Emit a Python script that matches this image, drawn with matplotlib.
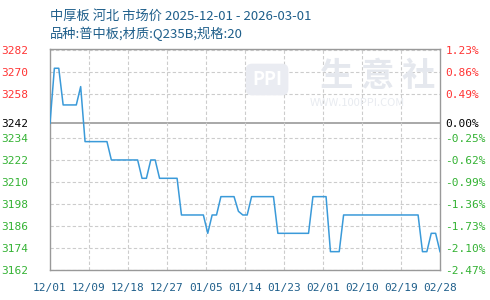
import matplotlib
matplotlib.use("Agg")
import matplotlib.pyplot as plt
import numpy as np

plt.rcParams['font.family'] = ['Noto Sans CJK SC', 'DejaVu Sans']

# 价格数据 (2025-12-01 起每日)
prices = [3242, 3272, 3272, 3252, 3252, 3252, 3252, 3262, 3232, 3232,
          3232, 3232, 3232, 3232, 3222, 3222, 3222, 3222, 3222, 3222,
          3222, 3212, 3212, 3222, 3222, 3212, 3212, 3212, 3212, 3212,
          3192, 3192, 3192, 3192, 3192, 3192, 3182, 3192, 3192, 3202,
          3202, 3202, 3202, 3194, 3192, 3192, 3202, 3202, 3202, 3202,
          3202, 3202, 3182, 3182, 3182, 3182, 3182, 3182, 3182, 3182,
          3202, 3202, 3202, 3202, 3172, 3172, 3172, 3192, 3192, 3192,
          3192, 3192, 3192, 3192, 3192, 3192, 3192, 3192, 3192, 3192,
          3192, 3192, 3192, 3192, 3192, 3172, 3172, 3182, 3182, 3172]
base = 3242
yticks = [3162, 3174, 3186, 3198, 3210, 3222, 3234, 3242, 3258, 3270, 3282]
xlabels = ['12/01', '12/09', '12/18', '12/27', '01/05', '01/14',
           '01/23', '02/01', '02/10', '02/19', '02/28']

title1 = '中厚板 河北 市场价 2025-12-01 - 2026-03-01'
title2 = '品种:普中板;材质:Q235B;规格:20'

red = '#ff3333'
green = '#33b233'
blue_txt = '#1f5f8b'

x = np.arange(len(prices))
xticks = np.linspace(0, len(prices) - 1, len(xlabels))

fig = plt.figure(figsize=(4.9, 3.0), dpi=100)
ax = fig.add_axes([50/490, 30/300, 390/490, 221/300])

# 水印
fig.text(0.77, 0.745, '生 意 社', fontsize=24, color='#e5e8ee',
         ha='center', va='center', fontweight='bold', zorder=0)
fig.text(0.73, 0.655, 'WWW.100PPI.COM', fontsize=8, color='#e8ebf0',
         ha='center', va='center', zorder=0)
fig.text(0.545, 0.735, 'PPI', fontsize=13, color='#ffffff', ha='center',
         va='center', fontweight='bold', zorder=1,
         bbox=dict(boxstyle='round,pad=0.35', fc='#eaecf2', ec='none'))

for t in yticks:
    if t == base:
        ax.axhline(t, color='#999999', lw=1.2, zorder=1)
    else:
        ax.axhline(t, color='#cccccc', lw=0.8, ls=(0, (3, 2)), zorder=1)
for t in xticks[1:-1]:
    ax.axvline(t, color='#cccccc', lw=0.8, ls=(0, (3, 2)), zorder=1)

ax.plot(x, prices, color='#3a9ad9', lw=1.1, zorder=3)

ax.set_xlim(0, len(prices) - 1)
ax.set_ylim(3162, 3282.5)
ax.set_facecolor('none')
for s in ax.spines.values():
    s.set_color('#999999')
    s.set_linewidth(1.0)

def col(v):
    if v > base:
        return red
    if v < base:
        return green
    return 'black'

ax.set_yticks(yticks)
ax.set_yticklabels([str(t) for t in yticks], family='DejaVu Sans Mono', fontsize=8)
for lab, t in zip(ax.get_yticklabels(), yticks):
    lab.set_color(col(t))
ax.tick_params(axis='y', length=0, pad=16)

ax.set_xticks(xticks)
ax.set_xticklabels(xlabels, family='DejaVu Sans Mono', fontsize=8, color=blue_txt)
ax.tick_params(axis='x', length=0, pad=9)

ax2 = ax.twinx()
ax2.set_ylim(ax.get_ylim())
ax2.set_yticks(yticks)
ax2.set_yticklabels(['%.2f%%' % ((t - base) / base * 100) for t in yticks],
                    family='DejaVu Sans Mono', fontsize=8)
for lab, t in zip(ax2.get_yticklabels(), yticks):
    lab.set_color(col(t))
ax2.tick_params(axis='y', length=0, pad=4)
for s in ax2.spines.values():
    s.set_visible(False)

fig.text(50/490, 1 - 16/300, title1, fontsize=9.5, color=blue_txt, va='center')
fig.text(50/490, 1 - 34/300, title2, fontsize=9.5, color=blue_txt, va='center')

fig.savefig('out.png', dpi=100)
